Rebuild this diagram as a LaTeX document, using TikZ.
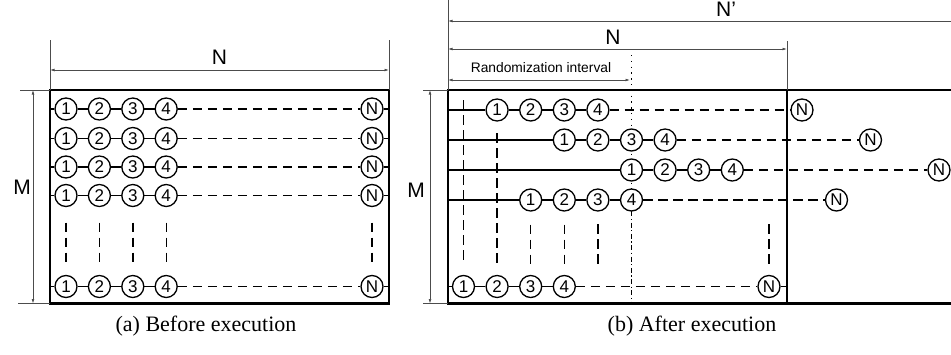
\documentclass[tikz,border=0pt]{standalone}
\usepackage{fontspec}
\setmainfont{Liberation Serif}
\setsansfont{Liberation Sans}
\usetikzlibrary{arrows.meta}
\begin{document}
\begin{tikzpicture}[x=1pt,y=-1pt,
  cnode/.style={circle,draw,fill=white,line width=1.3pt,minimum size=22pt,inner sep=0pt,font=\sffamily\fontsize{17}{17}\selectfont},
  boxline/.style={line width=2.2pt},
  link/.style={line width=1.3pt},
  dlink/.style={line width=1.4pt,dash pattern=on 9.5pt off 5.5pt},
  dotline/.style={line width=1.3pt,dash pattern=on 1.3pt off 4.5pt},
  dashdotline/.style={line width=1.3pt,dash pattern=on 5pt off 2.5pt on 1.3pt off 2.5pt},
  dim/.style={line width=0.7pt,draw=black!70},
  tip/.tip={Latex[length=4.5pt,width=2.8pt]},
  dimarrow/.style={dim,tip-tip},
  lbl/.style={font=\sffamily\fontsize{21}{21}\selectfont},
  smalllbl/.style={font=\sffamily\fontsize{13.8}{13.8}\selectfont},
  caption/.style={font=\fontsize{22}{22}\selectfont}]
\useasboundingbox (0,0) rectangle (951,354);

% ---------------- panel (a) ----------------
\coordinate (aTL) at (50,90);
\coordinate (aTR) at (389,90);
\coordinate (aBL) at (50,303.5);
\coordinate (aBR) at (389,303.5);
\draw[boxline] (aTL) rectangle (aBR);
% dimensions
\coordinate (aNl0) at (50,40);
\coordinate (aNr0) at (389,40);
\draw[dim] (aNl0) -- (aTL);
\draw[dim] (aNr0) -- (aTR);
\coordinate (aNl) at (50,70);
\coordinate (aNr) at (389,70);
\draw[dimarrow] (aNl) -- (aNr);
\node[lbl] (aNlabel) at (219.5,57) {N};
\coordinate (aMt0) at (20,90);
\coordinate (aMb0) at (18,303.5);
\draw[dim] (aMt0) -- (aTL);
\draw[dim] (aMb0) -- (aBL);
\coordinate (aMt) at (33,90);
\coordinate (aMb) at (33,303.5);
\draw[dimarrow] (aMt) -- (aMb);
\node[lbl] (aMlabel) at (22,187) {M};
% rows
\foreach \r/\y in {1/109,2/138.5,3/167,4/195.5,5/286.5} {
  \coordinate (a\r-L) at (50,\y);
  \coordinate (a\r-R) at (389,\y);
  \foreach \k in {1,...,4} {
    \node[cnode] (a\r-\k) at ({66+33.4*(\k-1)},\y) {\k};
  }
  \node[cnode] (a\r-N) at (372,\y) {N};
  \draw[link] (a\r-L) -- (a\r-1) -- (a\r-2) -- (a\r-3) -- (a\r-4);
  \draw[dlink] (a\r-4) -- (a\r-N);
  \draw[link] (a\r-N) -- (a\r-R);
}
\foreach \k in {1,2,3,4,N} {
  \draw[dlink,shorten <=15.5pt,shorten >=10pt] (a4-\k) -- (a5-\k);
}
\node[caption] (acap) at (206,326) {(a) Before execution};

% ---------------- panel (b) ----------------
\coordinate (bTL) at (448,90);
\coordinate (bBL) at (448,303.5);
\coordinate (bTE) at (951,90);
\coordinate (bBE) at (951,303.5);
\coordinate (bTN) at (787,90);
\coordinate (bBN) at (787,303.5);
\draw[boxline] (bTE) -- (bTL) -- (bBL) -- (bBE);
\draw[boxline] (bTN) -- (bBN);
% dimensions
\coordinate (bL0) at (448,0);
\coordinate (bN0) at (787,41);
\draw[dim] (bL0) -- (bTL);
\draw[dim] (bN0) -- (bTN);
\coordinate (bNpl) at (448,21);
\coordinate (bNpr) at (951,21);
\draw[dim,tip-] (bNpl) -- (bNpr);
\node[lbl] (bNplabel) at (726,9) {N’};
\coordinate (bNl) at (448,49);
\coordinate (bNr) at (787,49);
\draw[dimarrow] (bNl) -- (bNr);
\node[lbl] (bNlabel) at (613,37) {N};
\coordinate (bRl) at (448,80);
\coordinate (bRr) at (630,80);
\draw[dimarrow] (bRl) -- (bRr);
\node[smalllbl] (bRlabel) at (541,68) {Randomization interval};
\coordinate (bMt0) at (423,90);
\coordinate (bMb0) at (423,303.5);
\draw[dim] (bMt0) -- (bTL);
\draw[dim] (bMb0) -- (bBL);
\coordinate (bMt) at (430,90);
\coordinate (bMb) at (430,303.5);
\draw[dimarrow] (bMt) -- (bMb);
\node[lbl] (bMlabel) at (416,190) {M};
% randomization boundary
\coordinate (bD0) at (631.5,55);
\coordinate (bD1) at (631.5,200);
\coordinate (bD2) at (631.5,303.5);
\draw[dotline] (bD0) -- (bD1);
\draw[dashdotline] (bD1) -- (bD2);
% rows
\foreach \r/\y/\s/\nx in {1/110/2/802, 2/140/4/870.5, 3/170/6/939, 4/200/3/836.5, 5/286.5/1/769} {
  \coordinate (b\r-L) at (448,\y);
  \foreach \k in {1,...,4} {
    \node[cnode] (b\r-\k) at ({463.5+33.6*(\s+\k-2)},\y) {\k};
  }
  \node[cnode] (b\r-N) at (\nx,\y) {N};
  \draw[link] (b\r-L) -- (b\r-1) -- (b\r-2) -- (b\r-3) -- (b\r-4);
  \draw[dlink] (b\r-4) -- (b\r-N);
}
\coordinate (b5-R) at (787,286.5);
\draw[link] (b5-N) -- (b5-R);
% vertical dashed connectors
\coordinate (bv1) at (463.5,100);
\coordinate (bv2) at (497.1,133);
\draw[dlink,shorten >=10pt] (bv1) -- (b5-1);
\draw[dlink,shorten >=10pt] (bv2) -- (b5-2);
\draw[dlink,shorten <=13pt,shorten >=7pt] (b4-1) -- (b5-3);
\draw[dlink,shorten <=13pt,shorten >=7pt] (b4-2) -- (b5-4);
\coordinate (bv5) at (597.9,224);
\coordinate (bv5b) at (597.9,268);
\draw[dlink] (bv5) -- (bv5b);
\coordinate (bvN) at (769,224);
\draw[dlink,shorten >=7pt] (bvN) -- (b5-N);
\node[caption] (bcap) at (692,326) {(b) After execution};
\end{tikzpicture}
\end{document}
